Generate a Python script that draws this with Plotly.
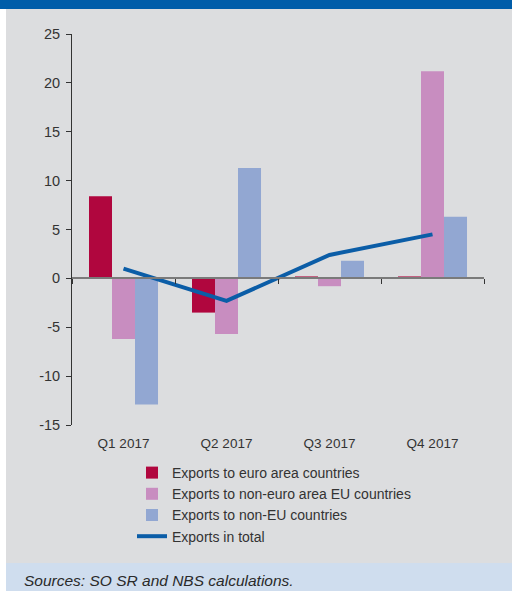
import plotly.graph_objects as go

# Quarterly contributions to export growth (percentage points)
quarters = ["Q1 2017", "Q2 2017", "Q3 2017", "Q4 2017"]
euro_area = [8.4, -3.5, 0.2, 0.2]
non_euro_eu = [-6.2, -5.7, -0.8, 21.2]
non_eu = [-12.9, 11.3, 1.8, 6.3]
total = [1.0, -2.3, 2.4, 4.5]

y_ticks = [-15, -10, -5, 0, 5, 10, 15, 20, 25]
y_tick_text = [str(v) for v in y_ticks]

# figure geometry (pixels)
W, H = 512, 591
ML, MR, MT, MB = 72, 28, 34, 166
PW, PH = W - ML - MR, H - MT - MB


def px_x(px):
    return (px - ML) / PW


def px_y(py):
    return (H - MB - py) / PH


RED = "#B0063E"
PINK = "#C88DC0"
LAV = "#92A7D2"
LINE = "#0B5DA7"
BG = "#DCDDDF"
TXT = "#333333"
YMIN, YMAX = -15, 25

fig = go.Figure()
fig.add_trace(go.Bar(x=quarters, y=euro_area, name="Exports to euro area countries",
                     marker=dict(color=RED, line=dict(width=0)), legendgroup="a"))
fig.add_trace(go.Bar(x=quarters, y=non_euro_eu, name="Exports to non-euro area EU countries",
                     marker=dict(color=PINK, line=dict(width=0)), legendgroup="b"))
fig.add_trace(go.Bar(x=quarters, y=non_eu, name="Exports to non-EU countries",
                     marker=dict(color=LAV, line=dict(width=0)), legendgroup="c"))
fig.add_trace(go.Scatter(x=quarters, y=total, name="Exports in total", mode="lines",
                         line=dict(color=LINE, width=4), xaxis="x2", legendgroup="d"))

shapes = [
    # top band
    dict(type="rect", xref="paper", yref="paper", x0=px_x(0), x1=px_x(W),
         y0=px_y(9), y1=px_y(0), fillcolor="#005DA9", line=dict(width=0), layer="below"),
    # white left margin strip
    dict(type="rect", xref="paper", yref="paper", x0=px_x(0), x1=px_x(6),
         y0=px_y(H), y1=px_y(9), fillcolor="white", line=dict(width=0), layer="below"),
    # source band
    dict(type="rect", xref="paper", yref="paper", x0=px_x(6), x1=px_x(W),
         y0=px_y(H), y1=px_y(563), fillcolor="#CFDDEE", line=dict(width=0), layer="below"),
]

fig.update_layout(
    width=W, height=H, autosize=False,
    margin=dict(l=ML, r=MR, t=MT, b=MB, pad=0),
    paper_bgcolor=BG, plot_bgcolor=BG,
    barmode="group", bargap=0.33, bargroupgap=0,
    font=dict(family="Liberation Sans, Arial, sans-serif", size=14, color=TXT),
    showlegend=True,
    legend=dict(x=px_x(132), y=px_y(457), xanchor="left", yanchor="top",
                bgcolor="rgba(0,0,0,0)", traceorder="grouped", tracegroupgap=0,
                font=dict(size=14, color=TXT)),
    # zero line with boundary ticks
    xaxis=dict(type="category", categoryorder="array", categoryarray=quarters,
               range=[-0.5, 3.5], anchor="free", position=(0 - YMIN) / (YMAX - YMIN),
               showline=True, linecolor="#7A7A7A", linewidth=1.5,
               ticks="outside", tickson="boundaries", ticklen=5, tickcolor="#333333",
               tickwidth=1, showticklabels=False, showgrid=False, zeroline=False),
    # category labels along the bottom
    xaxis2=dict(type="category", categoryorder="array", categoryarray=quarters,
                range=[-0.5, 3.5], overlaying="x", anchor="y", side="bottom",
                showline=False, ticks="", showgrid=False, zeroline=False,
                ticklabelstandoff=8,
                tickfont=dict(family="Liberation Sans, Arial, sans-serif", size=13.5, color=TXT)),
    yaxis=dict(range=[YMIN, YMAX], tickvals=y_ticks, ticktext=y_tick_text,
               showline=True, linecolor="#333333", linewidth=1,
               ticks="outside", ticklen=5, tickcolor="#333333", tickwidth=1,
               showgrid=False, zeroline=False, ticklabelstandoff=3,
               tickfont=dict(size=14.5, color=TXT)),
    shapes=shapes,
    annotations=[dict(text="<i>Sources: SO SR and NBS calculations.</i>", xref="paper", yref="paper",
                      x=px_x(22), y=px_y(580), xanchor="left", yanchor="middle", showarrow=False,
                      font=dict(size=15.5, color="#2A2A2A"))],
)

fig.write_html("out.html")
